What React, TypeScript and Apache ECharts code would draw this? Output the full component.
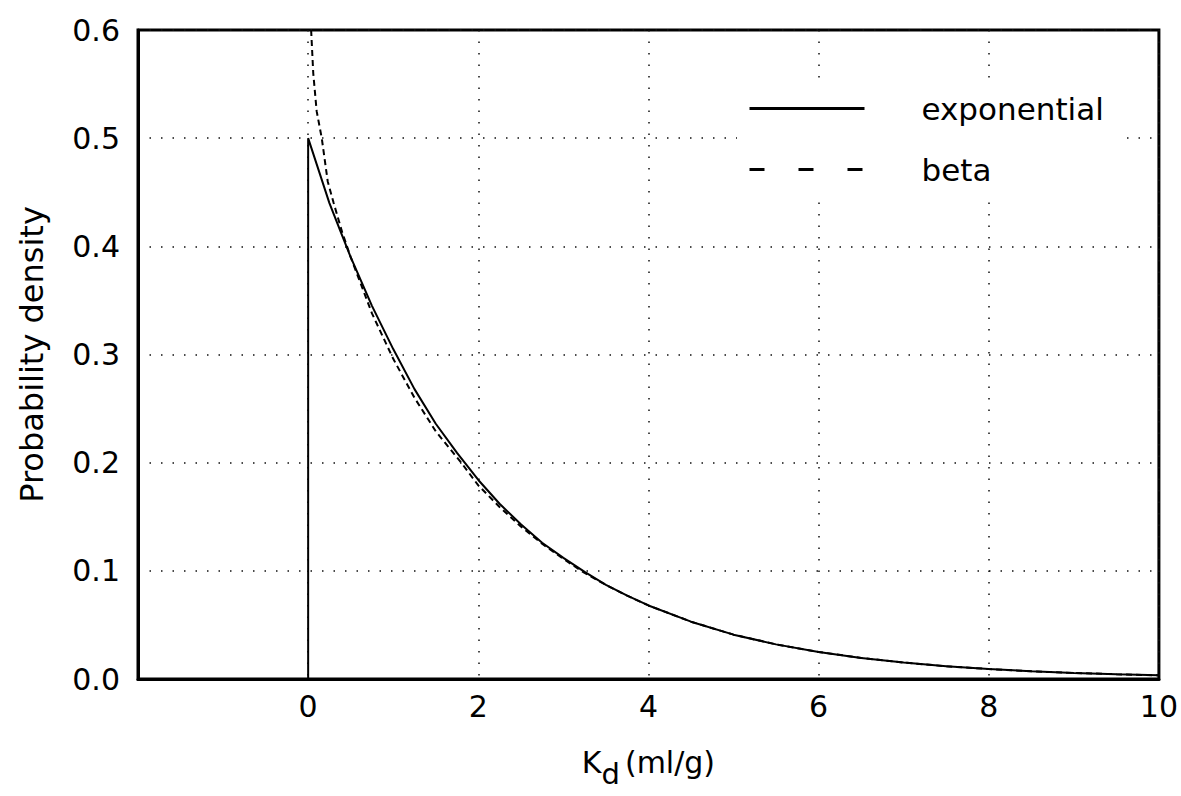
import React, { useEffect, useRef } from "react";
import * as echarts from "echarts";

const xTicks = [-2, 0, 2, 4, 6, 8, 10];
const yTicks = [0, 0.1, 0.2, 0.3, 0.4, 0.5, 0.6];

const expX = [0, 0, 0.1, 0.25, 0.4, 0.5, 0.75, 1, 1.25, 1.5, 1.75, 2, 2.25, 2.5, 2.75, 3, 3.25, 3.5, 3.75, 4, 4.5, 5, 5.5, 6, 6.5, 7, 7.5, 8, 8.5, 9, 9.5, 10];
const expY = [0, 0.5, 0.476, 0.44, 0.41, 0.39, 0.345, 0.305, 0.268, 0.236, 0.209, 0.184, 0.162, 0.143, 0.126, 0.112, 0.099, 0.087, 0.077, 0.068, 0.053, 0.041, 0.032, 0.025, 0.0195, 0.0152, 0.0118, 0.0092, 0.0071, 0.0056, 0.0044, 0.0034];

const betaX = [0.035, 0.06, 0.1, 0.16, 0.23, 0.3, 0.4, 0.5, 0.75, 1, 1.25, 1.5, 1.8, 2, 2.25, 2.5, 2.75, 3, 3.25, 3.5, 3.75, 4, 4.5, 5, 5.5, 6, 6.5, 7, 7.5, 8, 8.5, 9, 9.5, 10];
const betaY = [0.6, 0.56, 0.525, 0.5, 0.46, 0.44, 0.413, 0.39, 0.338, 0.296, 0.26, 0.229, 0.2, 0.179, 0.159, 0.141, 0.125, 0.111, 0.098, 0.087, 0.077, 0.068, 0.053, 0.041, 0.032, 0.025, 0.0195, 0.0152, 0.0118, 0.0092, 0.0071, 0.0056, 0.0044, 0.0034];

const FONT = "DejaVu Sans";

export default function App() {
  const ref = useRef<HTMLDivElement>(null);
  useEffect(() => {
    if (!ref.current) return;
    const chart = echarts.init(ref.current, null, { renderer: "svg" });
    const gridLine = { show: true, lineStyle: { color: "#111", width: 1.5, type: [1.5, 10] as any } };
    chart.setOption({
      animation: false,
      backgroundColor: "#fff",
      color: ["#000", "#000"],
      grid: {
        left: 138,
        top: 30,
        right: 17,
        bottom: 117,
        show: true,
        borderColor: "#000",
        borderWidth: 3,
        backgroundColor: "transparent",
      },
      legend: {
        left: 737,
        top: 84,
        orient: "vertical",
        backgroundColor: "#fff",
        padding: [9, 18, 11, 11],
        itemWidth: 115,
        itemHeight: 30,
        itemGap: 30,
        selectedMode: false,
        itemStyle: { opacity: 0 },
        formatter: "{t|{name}}",
        textStyle: {
          rich: { t: { fontFamily: FONT, fontSize: 31, color: "#000", padding: [0, 0, 0, 52] } },
        },
        data: [
          { name: "exponential", lineStyle: { width: 3, type: "solid", color: "#000" } },
          { name: "beta", lineStyle: { width: 3, type: [15, 34], color: "#000" } },
        ],
      },
      xAxis: {
        type: "value",
        min: xTicks[0],
        max: xTicks[xTicks.length - 1],
        interval: 2,
        axisLine: { show: true, onZero: false, lineStyle: { color: "#000", width: 3 } },
        axisTick: { show: false },
        splitLine: gridLine,
        axisLabel: {
          margin: 12,
          fontFamily: FONT,
          fontSize: 30,
          color: "#000",
          formatter: (v: number) => (v === xTicks[0] ? "" : String(v)),
        },
        name: "{k|K}{s|d}{t|(ml/g)}",
        nameLocation: "middle",
        nameGap: 58,
        nameTextStyle: {
          rich: {
            k: { fontFamily: FONT, fontSize: 30, color: "#000" },
            s: { fontFamily: FONT, fontSize: 29, color: "#000", padding: [22, 5, 0, 0] },
            t: { fontFamily: FONT, fontSize: 30, color: "#000" },
          },
        },
      },
      yAxis: {
        type: "value",
        min: yTicks[0],
        max: yTicks[yTicks.length - 1],
        interval: 0.1,
        axisLine: { show: true, onZero: false, lineStyle: { color: "#000", width: 3 } },
        axisTick: { show: false },
        splitLine: gridLine,
        axisLabel: {
          margin: 18,
          fontFamily: FONT,
          fontSize: 30,
          color: "#000",
          formatter: (v: number) => v.toFixed(1),
        },
        name: "Probability density",
        nameLocation: "middle",
        nameRotate: 90,
        nameGap: 90,
        nameTextStyle: { fontFamily: FONT, fontSize: 32, color: "#000" },
      },
      series: [
        {
          name: "exponential",
          type: "line",
          symbol: "none",
          color: "#000",
          data: expX.map((x, i) => [x, expY[i]]),
          lineStyle: { color: "#000", width: 2, type: "solid" },
          z: 3,
        },
        {
          name: "beta",
          type: "line",
          symbol: "none",
          color: "#000",
          data: betaX.map((x, i) => [x, betaY[i]]),
          lineStyle: { color: "#000", width: 2, type: [6, 4] },
          z: 3,
        },
      ],
    });
    return () => chart.dispose();
  }, []);
  return (
    <div
      ref={ref}
      style={{ position: "fixed", left: 0, top: 0, width: 1181, height: 796, background: "#fff" }}
    />
  );
}
